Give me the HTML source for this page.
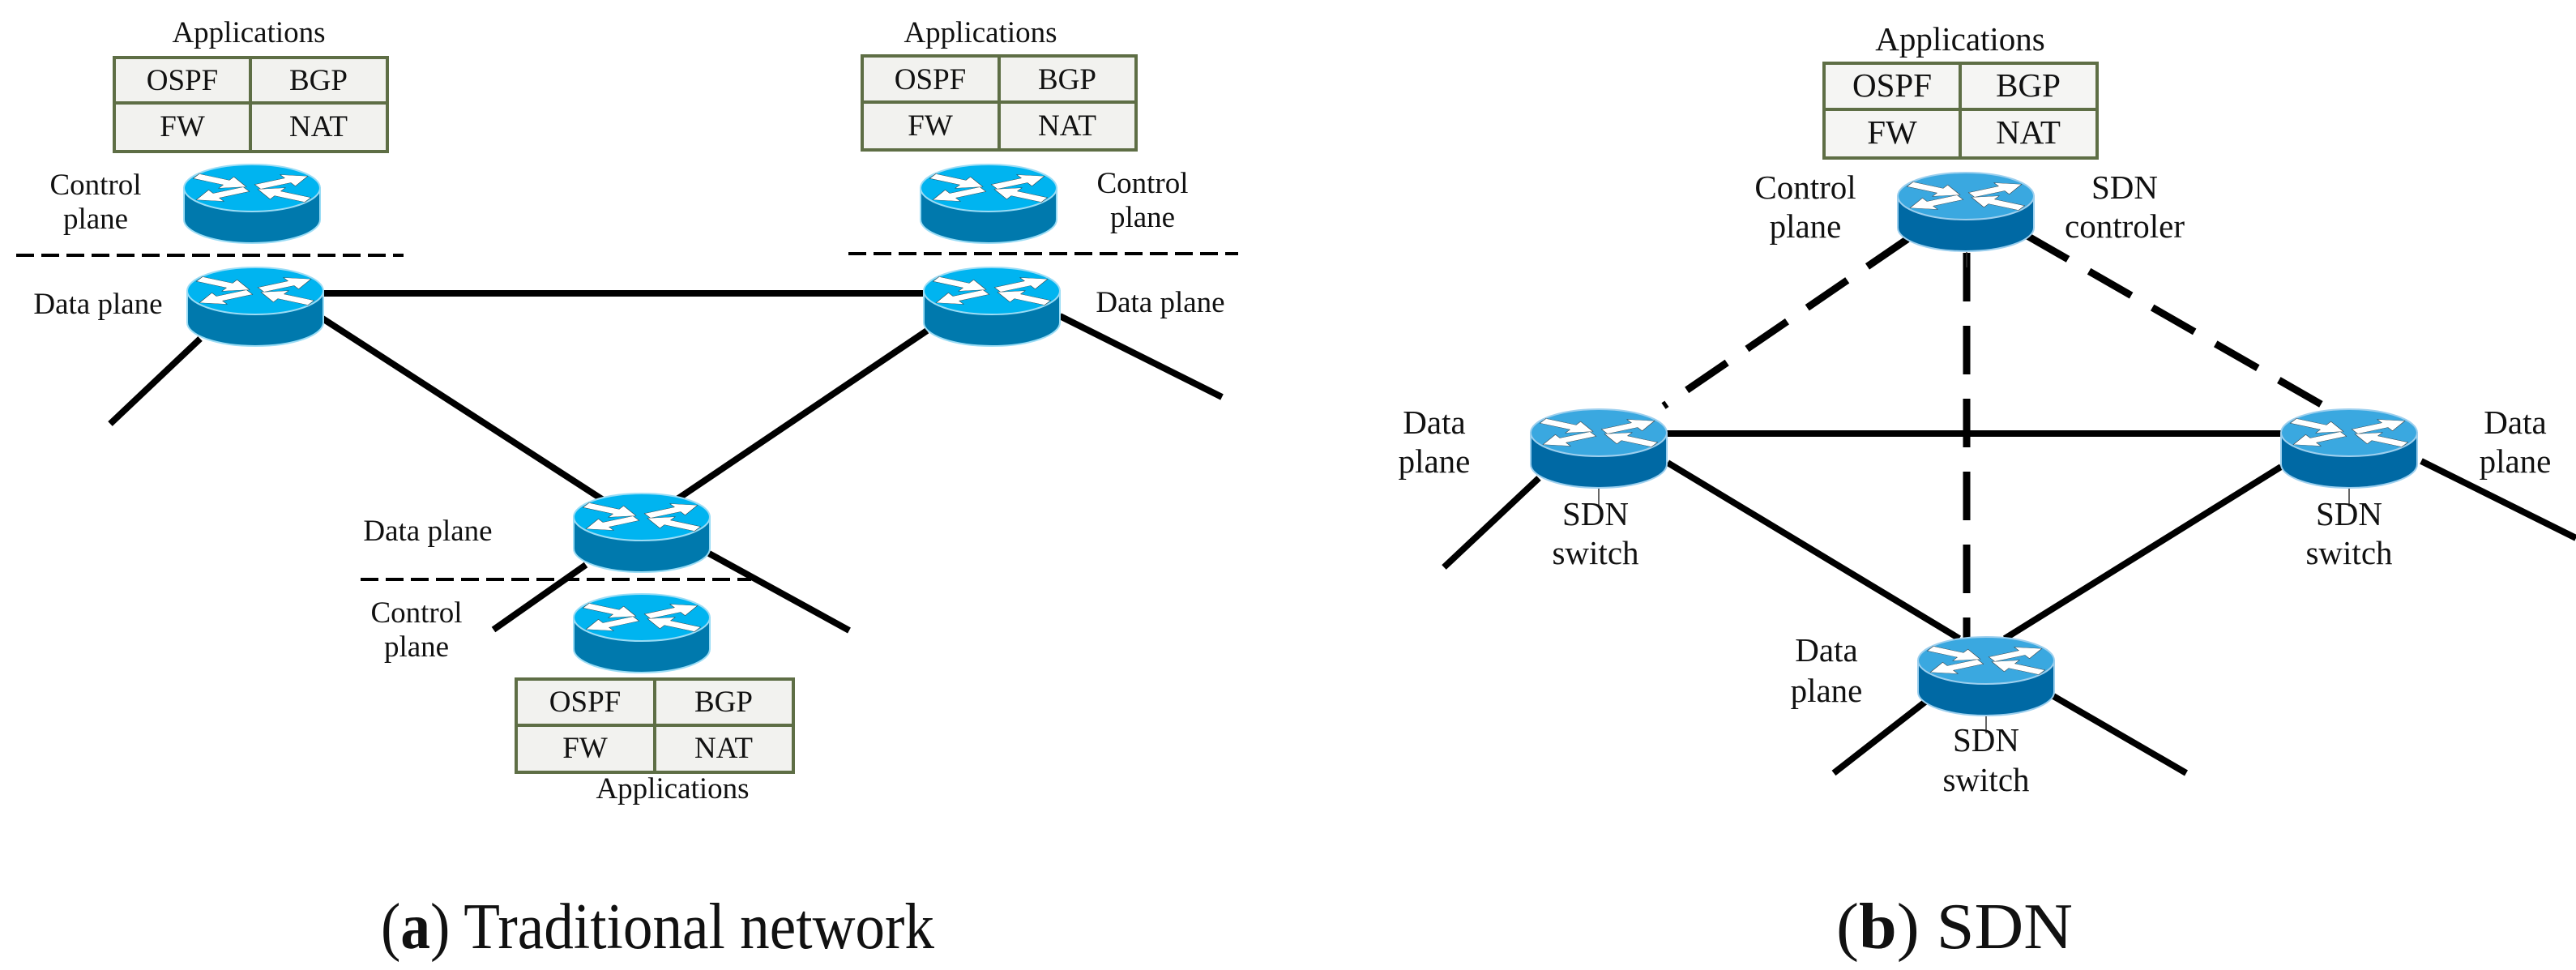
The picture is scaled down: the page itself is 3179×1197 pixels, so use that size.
<!DOCTYPE html>
<html><head><meta charset="utf-8"><style>
html,body{margin:0;padding:0;background:#fff}
svg{display:block}
text{font-family:"Liberation Serif","DejaVu Serif",serif;fill:#111}
</style></head><body>
<svg width="3179" height="1197" viewBox="0 0 3179 1197" xmlns="http://www.w3.org/2000/svg" font-family="Liberation Serif, DejaVu Serif, serif">
<defs>
<g id="arr">
<g transform="translate(84,29) scale(1,0.40)" fill="#fff" stroke="#333" stroke-width="0.8">
<polygon transform="rotate(-28)" points="8,-8 50,-8 50,-20 78,0 50,20 50,8 8,8"/>
<polygon transform="rotate(152)" points="8,-8 50,-8 50,-20 78,0 50,20 50,8 8,8"/>
<polygon transform="rotate(-152)" points="78,-8 36,-8 36,-20 8,0 36,20 36,8 78,8"/>
<polygon transform="rotate(28)" points="78,-8 36,-8 36,-20 8,0 36,20 36,8 78,8"/>
</g>
</g>
<g id="rA">
<path d="M0,29 L0,68 A84,29 0 0 0 168,68 L168,29 Z" fill="#0079ad" stroke="#9adcf5" stroke-width="2"/>
<ellipse cx="84" cy="29" rx="84" ry="29" fill="#00b4f0" stroke="#9adcf5" stroke-width="2"/>
<use href="#arr"/>
</g>
<g id="rB">
<path d="M0,29 L0,68 A84,29 0 0 0 168,68 L168,29 Z" fill="#0069a4" stroke="#9ccfee" stroke-width="2"/>
<ellipse cx="84" cy="29" rx="84" ry="29" fill="#3aa8e0" stroke="#9ccfee" stroke-width="2"/>
<use href="#arr"/>
</g>
</defs>

<g stroke="#000" stroke-width="8" fill="none">
<line x1="315" y1="362" x2="1224" y2="362"/>
<line x1="247" y1="418" x2="136" y2="523"/>
<line x1="398" y1="393" x2="780" y2="640"/>
<line x1="1144" y1="408" x2="800" y2="640"/>
<line x1="1308" y1="390" x2="1508" y2="490"/>
<line x1="723" y1="697" x2="609" y2="777"/>
<line x1="875" y1="683" x2="1048" y2="778"/>
</g>
<g stroke="#000" stroke-width="4" stroke-dasharray="22,9">
<line x1="20" y1="315" x2="498" y2="315"/>
<line x1="1047" y1="313" x2="1528" y2="313"/>
<line x1="445" y1="715" x2="927" y2="715"/>
</g>

<use href="#rA" x="227" y="203"/>
<use href="#rA" x="231" y="330"/>
<use href="#rA" x="1136" y="203"/>
<use href="#rA" x="1140" y="330"/>
<use href="#rA" x="708" y="609"/>
<use href="#rA" x="708" y="733"/>

<g stroke="#5e6e45" stroke-width="4" fill="#f2f2ef">
<rect x="141" y="71" width="337" height="116"/><line x1="309" y1="71" x2="309" y2="187"/><line x1="141" y1="127" x2="478" y2="127"/>
<rect x="1064" y="69" width="338" height="116"/><line x1="1233" y1="69" x2="1233" y2="185"/><line x1="1064" y1="126" x2="1402" y2="126"/>
<rect x="637" y="838" width="342" height="115"/><line x1="808" y1="838" x2="808" y2="953"/><line x1="637" y1="895" x2="979" y2="895"/>
</g>
<g font-size="37" text-anchor="middle" font-family="Liberation Serif, DejaVu Serif, serif">
<text x="307" y="52">Applications</text>
<text x="225" y="111">OSPF</text><text x="393" y="111">BGP</text>
<text x="225" y="168">FW</text><text x="393" y="168">NAT</text>
<text x="1210" y="52">Applications</text>
<text x="1148" y="110">OSPF</text><text x="1317" y="110">BGP</text>
<text x="1148" y="167">FW</text><text x="1317" y="167">NAT</text>
<text x="722" y="878">OSPF</text><text x="893" y="878">BGP</text>
<text x="722" y="935">FW</text><text x="893" y="935">NAT</text>
<text x="830" y="985">Applications</text>
<text x="118" y="240">Control</text><text x="118" y="282">plane</text>
<text x="121" y="387">Data plane</text>
<text x="1410" y="238">Control</text><text x="1410" y="280">plane</text>
<text x="1432" y="385">Data plane</text>
<text x="528" y="667">Data plane</text>
<text x="514" y="768">Control</text><text x="514" y="810">plane</text>
</g>

<g stroke="#000" stroke-width="8" fill="none">
<line x1="1973" y1="535" x2="2899" y2="535"/>
<line x1="2058" y1="571" x2="2418" y2="788"/>
<line x1="2815" y1="576" x2="2474" y2="788"/>
<line x1="1899" y1="590" x2="1782" y2="700"/>
<line x1="2988" y1="569" x2="3179" y2="664"/>
<line x1="2376" y1="866" x2="2263" y2="954"/>
<line x1="2534" y1="859" x2="2698" y2="954"/>
</g>
<g stroke="#000" stroke-width="9" stroke-dasharray="60,30">
<line x1="2354" y1="295" x2="2053" y2="501"/>
<line x1="2500" y1="290" x2="2875" y2="505"/>
<line x1="2427" y1="312" x2="2427" y2="800"/>
</g>
<use href="#rB" x="2342" y="213"/>
<use href="#rB" x="1889" y="505"/>
<use href="#rB" x="2815" y="505"/>
<use href="#rB" x="2367" y="786"/>
<g stroke="#333" stroke-width="1.5">
<line x1="1973" y1="603" x2="1973" y2="625"/>
<line x1="2899" y1="603" x2="2899" y2="625"/>
<line x1="2451" y1="884" x2="2451" y2="905"/>
<line x1="2427" y1="311" x2="2427" y2="330"/>
</g>
<g stroke="#5e6e45" stroke-width="4" fill="#f5f5f3">
<rect x="2251" y="78" width="337" height="117"/><line x1="2419" y1="78" x2="2419" y2="195"/><line x1="2251" y1="135" x2="2588" y2="135"/>
</g>
<g font-size="41" text-anchor="middle" font-family="Liberation Serif, DejaVu Serif, serif">
<text x="2419" y="62">Applications</text>
<text x="2335" y="119">OSPF</text><text x="2503" y="119">BGP</text>
<text x="2335" y="177">FW</text><text x="2503" y="177">NAT</text>
<text x="2228" y="245">Control</text><text x="2228" y="293">plane</text>
<text x="2622" y="245">SDN</text><text x="2622" y="293">controler</text>
<text x="1770" y="535">Data</text><text x="1770" y="583">plane</text>
<text x="1969" y="648">SDN</text><text x="1969" y="696">switch</text>
<text x="3104" y="535">Data</text><text x="3104" y="583">plane</text>
<text x="2899" y="648">SDN</text><text x="2899" y="696">switch</text>
<text x="2254" y="816">Data</text><text x="2254" y="866">plane</text>
<text x="2451" y="927">SDN</text><text x="2451" y="976">switch</text>
</g>

<text x="470" y="1170" font-size="80" textLength="683" lengthAdjust="spacingAndGlyphs" font-family="Liberation Serif, DejaVu Serif, serif">(<tspan font-weight="bold">a</tspan>) Traditional network</text>
<text x="2266" y="1170" font-size="80" textLength="292" lengthAdjust="spacingAndGlyphs" font-family="Liberation Serif, DejaVu Serif, serif">(<tspan font-weight="bold">b</tspan>) SDN</text>
</svg>
</body></html>
